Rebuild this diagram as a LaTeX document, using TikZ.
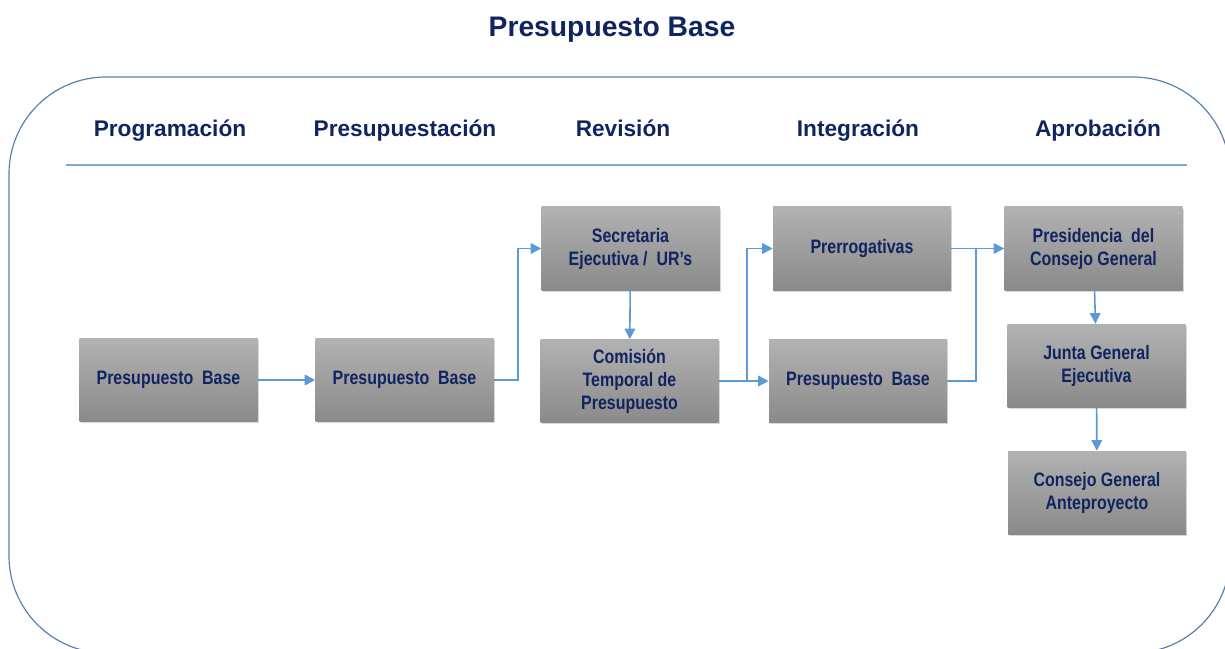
\documentclass[tikz,border=0pt]{standalone}
\usepackage{fontspec}
\setmainfont{Liberation Sans}
\newfontfamily\boxfont[FakeStretch=0.82]{Liberation Sans}
\usetikzlibrary{arrows.meta,shadows}
\definecolor{navy}{RGB}{16,36,96}
\definecolor{framblue}{RGB}{88,128,176}
\definecolor{sepblue}{RGB}{125,170,215}
\definecolor{arrowblue}{RGB}{91,155,213}
\definecolor{boxtop}{RGB}{178,178,178}
\definecolor{boxbot}{RGB}{138,138,138}

\begin{document}
\begin{tikzpicture}[x=0.75pt,y=-0.75pt,
  stage/.style={rectangle,minimum width=133.5pt,minimum height=62.25pt,inner sep=2pt,
    top color=boxtop,bottom color=boxbot,
    drop shadow={shadow xshift=0.8pt,shadow yshift=-1.4pt,opacity=0.3},
    text=navy,font=\boxfont\fontsize{14.6}{17.3}\selectfont\bfseries,align=center},
  head/.style={anchor=base,text=navy,font=\fontsize{17}{20}\selectfont\bfseries},
  flow/.style={draw=arrowblue,line width=1.2pt,-{Triangle[length=8pt,width=8pt]}}]
  \clip (0,0) rectangle (1225,649);

  \node[anchor=base,text=navy,font=\fontsize{21.2}{25}\selectfont\bfseries] (title) at (612,37) {Presupuesto Base};
  \draw[framblue,line width=0.9pt,rounded corners=72.75pt] (9,77) rectangle (1230,653);

  \foreach \x/\t [count=\i] in {170/Programación,405/Presupuestación,623/Revisión,858/Integración,1098/Aprobación} {
    \node[head] (h\i) at (\x,137) {\t};
  }
  \coordinate (sl) at (66,165);
  \coordinate (sr) at (1187,165);
  \draw[sepblue,line width=0.9pt] (sl) -- (sr);

  \node[stage] (pb1) at (168.5,380) {Presupuesto\ \ Base};
  \node[stage] (pb2) at (404.5,380) {Presupuesto\ \ Base};
  \node[stage] (sec) at (630.5,248.5) {Secretaria\\Ejecutiva\ /\ \ UR’s};
  \node[stage] (com) at (629.5,381) {Comisión\\Temporal\ de\\Presupuesto};
  \node[stage] (prer) at (862,248.5) {Prerrogativas};
  \node[stage] (pb3) at (858,381) {Presupuesto\ \ Base};
  \node[stage] (pres) at (1093.5,248.5) {Presidencia\ \ del\\Consejo General};
  \node[stage] (junta) at (1096.5,365.5) {Junta General\\Ejecutiva};
  \node[stage] (cons) at (1097,492.5) {Consejo General\\Anteproyecto};

  \coordinate (jn) at (976,248.5);
  \draw[flow] (pb1) -- (pb2);
  \draw[flow] (pb2.east) -- ++(24,0) |- (sec);
  \draw[flow] (sec) -- (com);
  \draw[flow] (com) -- (pb3);
  \draw[flow] (com.east) -- ++(28,0) |- (prer);
  \draw[flow] (prer) -- (pres);
  \draw[flow,-] (pb3.east) -| (jn);
  \draw[flow] (pres) -- (junta);
  \draw[flow] (junta) -- (cons);
\end{tikzpicture}
\end{document}
